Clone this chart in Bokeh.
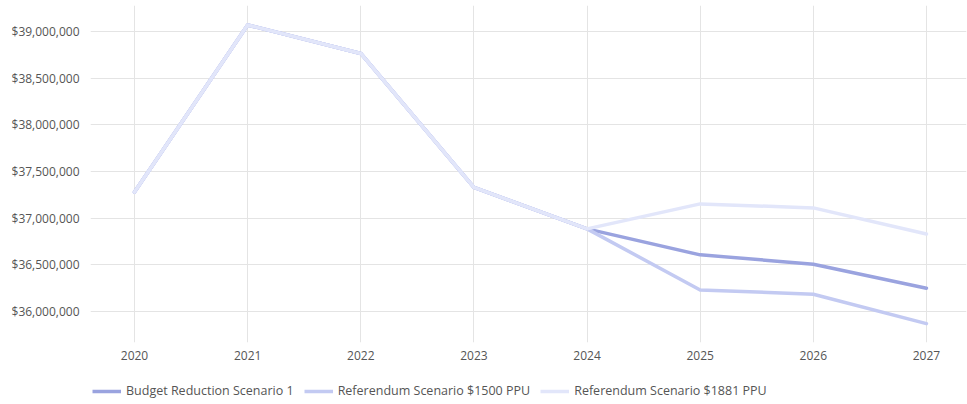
from bokeh.plotting import figure
from bokeh.layouts import column
from bokeh.models import Legend, LegendItem, NumeralTickFormatter, FixedTicker, Range1d
from bokeh.embed import file_html
from bokeh.resources import INLINE

years = [2020, 2021, 2022, 2023, 2024, 2025, 2026, 2027]
budget_reduction_1 = [37280000, 39070000, 38765000, 37330000, 36885000, 36607000, 36507000, 36250000]
referendum_1500 = [37280000, 39070000, 38765000, 37330000, 36885000, 36231000, 36185000, 35870000]
referendum_1881 = [37280000, 39070000, 38765000, 37330000, 36885000, 37153000, 37110000, 36830000]
series_names = ["Budget Reduction Scenario 1", "Referendum Scenario $1500 PPU", "Referendum Scenario $1881 PPU"]
series_values = [budget_reduction_1, referendum_1500, referendum_1881]
colors = ["#9aa3df", "#c3caf2", "#e2e6fa"]
y_ticks = [36000000, 36500000, 37000000, 37500000, 38000000, 38500000, 39000000]

FONT = "Open Sans"

p = figure(width=967, height=368, output_backend="svg", toolbar_location=None,
           x_range=Range1d(2019.611, 2027.354), y_range=Range1d(35667900, 39278600),
           min_border_top=5, min_border_right=1, min_border_left=90, min_border_bottom=26)
p.outline_line_color = None
p.background_fill_color = "white"

for vals, col in zip(series_values, colors):
    p.line(years, vals, line_color=col, line_width=3.5, line_join="round", line_cap="round")

p.xaxis.ticker = FixedTicker(ticks=years)
p.yaxis.ticker = FixedTicker(ticks=y_ticks)
p.yaxis.formatter = NumeralTickFormatter(format="$0,0")
for ax in [p.xaxis[0], p.yaxis[0]]:
    ax.axis_line_color = None
    ax.major_tick_line_color = None
    ax.minor_tick_line_color = None
    ax.major_label_text_font = FONT
    ax.major_label_text_font_size = "12px"
    ax.major_label_text_color = "#555555"
p.yaxis.major_label_standoff = 5
p.xaxis.major_label_standoff = 2
p.xgrid.grid_line_color = "#e4e4e4"
p.ygrid.grid_line_color = "#e4e4e4"
p.xgrid.ticker = FixedTicker(ticks=years)
p.ygrid.ticker = FixedTicker(ticks=y_ticks)

# legend strip below the chart
p2 = figure(width=967, height=36, output_backend="svg", toolbar_location=None,
            x_range=Range1d(0, 1), y_range=Range1d(0, 1), x_axis_type=None, y_axis_type=None,
            min_border_top=0, min_border_right=0, min_border_left=0, min_border_bottom=0)
p2.outline_line_color = None
p2.xgrid.visible = False
p2.ygrid.visible = False
items = []
for name, vals, col in zip(series_names, series_values, colors):
    r = p2.line(years, vals, line_color=col, line_width=3.5, visible=False)
    items.append(LegendItem(label=name, renderers=[r]))
legend = Legend(items=items, orientation="horizontal", location=(2, 5),
                label_text_font=FONT, label_text_font_size="12.5px", label_text_color="#555555",
                glyph_width=29, glyph_height=12, label_height=12, label_standoff=5, spacing=10,
                padding=0, margin=0, border_line_color=None, background_fill_alpha=0)
p2.add_layout(legend, "center")

layout = column(p, p2, spacing=0)
open("out.html", "w").write(file_html(layout, INLINE))
